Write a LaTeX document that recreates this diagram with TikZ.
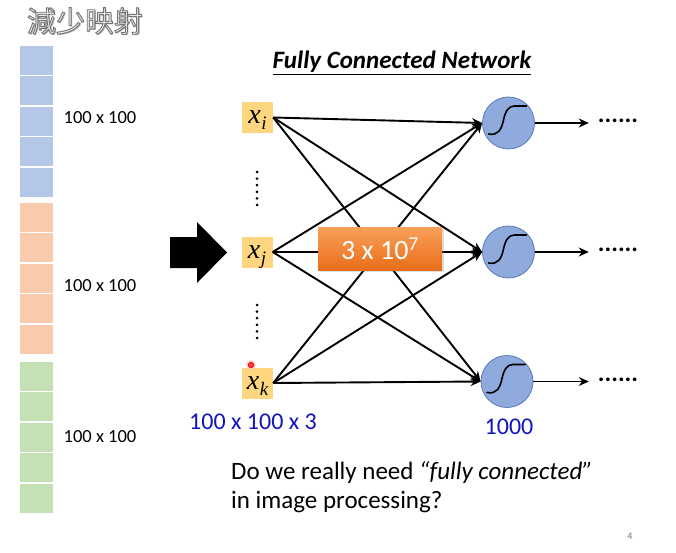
\documentclass[tikz,border=0pt]{standalone}
\usepackage{fontspec}
\setmainfont{Carlito}
\newfontfamily\cjk{Noto Sans CJK TC}
\newfontfamily\varfont{Liberation Serif}
\usetikzlibrary{arrows.meta,shadows}
\definecolor{cellblue}{RGB}{180,199,231}
\definecolor{cellorange}{RGB}{248,203,173}
\definecolor{cellgreen}{RGB}{197,224,180}
\definecolor{inyellow}{RGB}{255,214,128}
\definecolor{neuronfill}{RGB}{143,170,220}
\definecolor{neurondraw}{RGB}{90,120,190}
\definecolor{labelblue}{RGB}{20,20,190}
\definecolor{boxtop}{RGB}{250,160,90}
\definecolor{boxbot}{RGB}{232,110,25}
% outlined text: fill with the current colour, stroke in grey
\newcommand{\outlinedtext}[1]{%
  \special{pdf:literal direct 2 Tr 0.9 w 0.45 G}#1\special{pdf:literal direct 0 Tr}}
% an italic variable with an italic subscript, set low in its box
\newcommand{\invar}[1]{\raisebox{-6.5pt}[0pt][0pt]{\varfont\itshape
  x\kern0.5pt\raisebox{-6pt}{\fontsize{19}{19}\selectfont #1}}}
\tikzset{
  cell/.style={fill=#1, draw=none},
  inbox/.style={fill=inyellow, minimum width=31pt, minimum height=31pt, inner sep=0pt,
    font=\fontsize{28}{28}\selectfont},
  neuron/.style={circle, fill=neuronfill, draw=neurondraw, line width=0.8pt,
    minimum size=52pt, inner sep=0pt},
  conn/.style={line width=1.9pt, -{Stealth[length=10pt,width=9pt]}},
  sizelabel/.style={font=\fontsize{18.5}{20}\selectfont, inner sep=0pt},
  bluelabel/.style={text=labelblue, font=\fontsize{24}{26}\selectfont, inner sep=0pt},
  outdots/.style={font=\fontsize{25}{26}\selectfont\bfseries, inner sep=0pt},
}
\begin{document}
\begin{tikzpicture}[x=1pt, y=-1pt]
\useasboundingbox (0,0) rectangle (676,553);

% heading
\node[text=black!30, font=\cjk\fontsize{29}{30}\selectfont, inner sep=0pt] at (86.2,22.2) {減少映射};
\node[text=black!8, font=\cjk\fontsize{29}{30}\selectfont, inner sep=0pt] (head) at (85,21)
  {\outlinedtext{減少映射}};

% flattened image: three colour channels of five cells each
\foreach \top/\col in {46/cellblue, 203/cellorange, 362/cellgreen}
  \foreach \i in {0,...,4}
    \fill[cell=\col] (20,\top+\i*30.4) rectangle (53,\top+\i*30.4+29);
\node[sizelabel] (c1) at (100,118) {100 x 100};
\node[sizelabel] (c2) at (100,286) {100 x 100};
\node[sizelabel] (c3) at (100,437) {100 x 100};

% big arrow into the network
\fill[black] (170,237) -- (197,237) -- (197,222) -- (227,252.5) -- (197,283)
  -- (197,268) -- (170,268) -- cycle;

% network title
\node[font=\fontsize{25}{27}\selectfont\bfseries\itshape, inner sep=0pt] (title)
  at (402,63) {\underline{Fully Connected Network}};

% inputs
\node[inbox] (xi) at (257.5,117.5) {\invar{i}};
\node[inbox] (xj) at (257,252) {\invar{j}};
\node[inbox] (xk) at (257.5,383) {\invar{k}};

% vertical ellipses between inputs
\foreach \y in {172,178.6,185.2,191.8,198.4,205}
  \fill (257,\y) circle (1.5pt);
\foreach \y in {305,311.6,318.2,324.8,331.4,338}
  \fill (257,\y) circle (1.5pt);

% neurons with a sigmoid sketch
\node[neuron] (o1) at (508.5,123) {};
\node[neuron] (o2) at (508.5,252) {};
\node[neuron] (o3) at (507,381.5) {};
\foreach \n in {o1,o2,o3}
  \draw[line width=1.6pt, line cap=round]
    ([shift={(-20,11)}]\n.center) .. controls ([shift={(-10,13)}]\n.center)
      and ([shift={(-7,6)}]\n.center) .. ([shift={(-5,-3)}]\n.center)
    .. controls ([shift={(-3,-12)}]\n.center) and ([shift={(0,-17)}]\n.center)
    .. ([shift={(6,-17)}]\n.center) -- ([shift={(18,-17)}]\n.center);

% full connections
\foreach \a in {xi,xj,xk}
  \foreach \b in {o1,o2,o3}
    \draw[conn] (\a.east) -- (\b.west);

% outputs
\node[outdots] (d1) at (618,121) {......};
\node[outdots] (d2) at (618,250) {......};
\node[outdots] (d3) at (618,380) {......};
\draw[conn, shorten >=9pt] (o1.east) -- (d1.west |- o1.east);
\draw[conn, shorten >=9pt] (o2.east) -- (d2.west |- o2.east);
\draw[conn, shorten >=9pt] (o3.east) -- (d3.west |- o3.east);

% parameter count
\node[top color=boxtop, bottom color=boxbot, draw=none, minimum width=124pt,
  minimum height=43pt, inner sep=0pt, text=white, drop shadow={opacity=0.25},
  font=\fontsize{28}{30}\selectfont] (params) at (380,248.5) {3 x 10\textsuperscript{7}};

% sizes
\node[bluelabel] (insize) at (253,422) {100 x 100 x 3};
\node[bluelabel] (outsize) at (509,427) {1000};

% pointer mark
\fill[red!25, opacity=0.6] (251,365) circle (5pt);
\draw[red, line width=1pt, fill=red!70] (251,365) circle (2.6pt);

% question
\node[anchor=north west, align=left, inner sep=0pt,
  font=\fontsize{25}{29}\selectfont] (q) at (231,461)
  {Do we really need \textit{“fully connected”}\\in image processing?};

% page number
\node[text=black!55, font=\fontsize{10}{12}\selectfont, inner sep=0pt] (pg) at (630,536) {4};
\end{tikzpicture}
\end{document}
